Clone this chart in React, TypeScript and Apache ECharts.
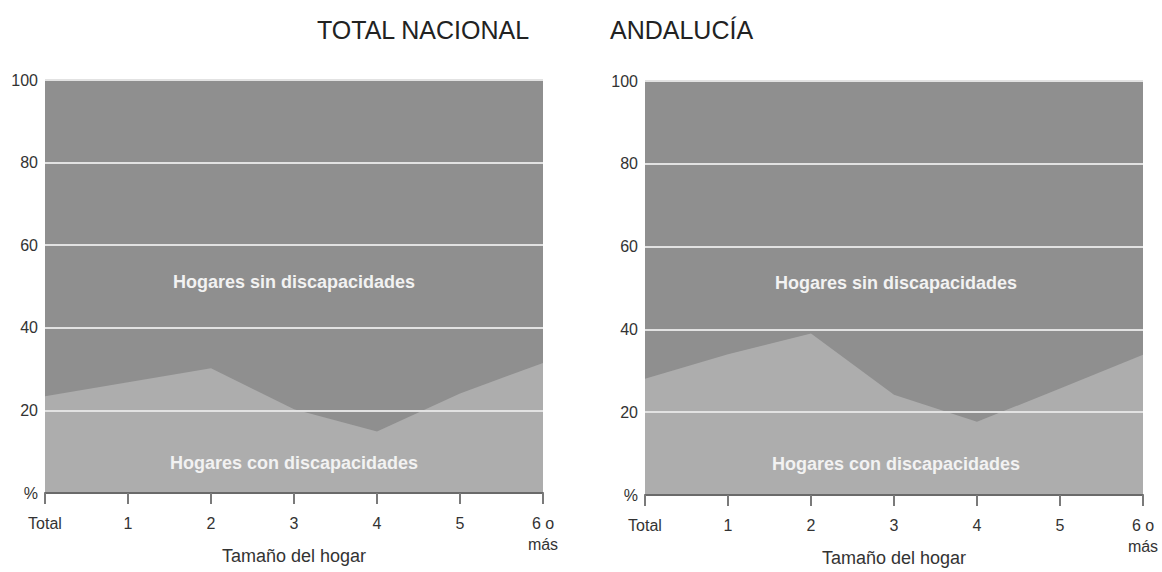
import React, { useEffect, useRef } from "react";
import * as echarts from "echarts";

const categories = ["Total", "1", "2", "3", "4", "5", "6 o\nmás"];
const nacionalCon = [23.4, 26.8, 30.2, 20.3, 14.9, 24.1, 31.5];
const andaluciaCon = [28.1, 34.0, 39.0, 24.2, 17.7, 25.7, 33.9];
const yTicks = [0, 20, 40, 60, 80, 100];
const titles = ["TOTAL NACIONAL", "ANDALUCÍA"];
const areaLabels = ["Hogares sin discapacidades", "Hogares con discapacidades"];
const xName = "Tamaño del hogar";

const DARK = "#8f8f8f";
const LIGHT = "#adadad";
const FONT = "'Liberation Sans', Arial, sans-serif";

export default function App() {
  const ref = useRef<HTMLDivElement>(null);
  useEffect(() => {
    if (!ref.current) return;
    const chart = echarts.init(ref.current, undefined, { renderer: "svg" });
    const grids = [
      { left: 45, top: 80, width: 498, height: 413 },
      { left: 645, top: 81, width: 498, height: 414 },
    ];
    const mkX = (i: number) => ({
      type: "category",
      gridIndex: i,
      data: categories,
      boundaryGap: false,
      z: 4,
      axisLine: { show: true, lineStyle: { color: "#6a6a6a", width: 2 } },
      axisTick: { show: true, length: 11, lineStyle: { color: "#7a7a7a", width: 2 }, alignWithLabel: true },
      axisLabel: { color: "#333", fontSize: 16, fontFamily: FONT, margin: 20, lineHeight: 21, interval: 0 },
      splitLine: { show: false },
      name: xName,
      nameLocation: "middle",
      nameGap: 54,
      nameMoveOverlap: false,
      nameTextStyle: { color: "#333", fontSize: 18, fontFamily: FONT },
    });
    const mkY = (i: number) => ({
      type: "value",
      gridIndex: i,
      min: 0,
      max: 100,
      interval: 20,
      z: 3,
      axisLine: { show: false },
      axisTick: { show: false },
      axisLabel: {
        color: "#333",
        fontSize: 16,
        fontFamily: FONT,
        margin: 7,
        formatter: (v: number) => (v === yTicks[0] ? "%" : String(v)),
      },
      splitLine: { show: true, lineStyle: { color: "#e2e2e2", width: 2 } },
    });
    const mkSeries = (i: number, data: number[]) => ({
      type: "line",
      xAxisIndex: i,
      yAxisIndex: i,
      data,
      symbol: "none",
      lineStyle: { width: 0 },
      areaStyle: { color: LIGHT, opacity: 1 },
      z: 2,
    });
    const texts: any[] = [];
    const centers = [294, 896];
    titles.forEach((t, i) => {
      texts.push({
        type: "text",
        x: i === 0 ? 317 : 610,
        y: 30,
        style: { text: t, fill: "#222", font: `25px ${FONT}`, verticalAlign: "middle" },
      });
    });
    centers.forEach((cx, i) => {
      const dy = i === 0 ? 0 : 1;
      texts.push({
        type: "text",
        x: cx,
        y: 282 + dy,
        style: { text: areaLabels[0], fill: "#f2f2f2", font: `bold 18px ${FONT}`, align: "center", verticalAlign: "middle" },
        z: 10,
      });
      texts.push({
        type: "text",
        x: cx,
        y: 463 + dy,
        style: { text: areaLabels[1], fill: "#f2f2f2", font: `bold 18px ${FONT}`, align: "center", verticalAlign: "middle" },
        z: 10,
      });
    });
    chart.setOption({
      animation: false,
      backgroundColor: "#ffffff",
      grid: grids.map((g) => ({
        ...g,
        show: true,
        backgroundColor: DARK,
        borderWidth: 0,
        containLabel: false,
        outerBoundsMode: "none",
      })),
      xAxis: [mkX(0), mkX(1)],
      yAxis: [mkY(0), mkY(1)],
      series: [mkSeries(0, nacionalCon), mkSeries(1, andaluciaCon)],
      graphic: texts,
    });
    return () => chart.dispose();
  }, []);
  return (
    <div
      ref={ref}
      style={{ position: "fixed", left: 0, top: 0, width: 1162, height: 572 }}
    />
  );
}
